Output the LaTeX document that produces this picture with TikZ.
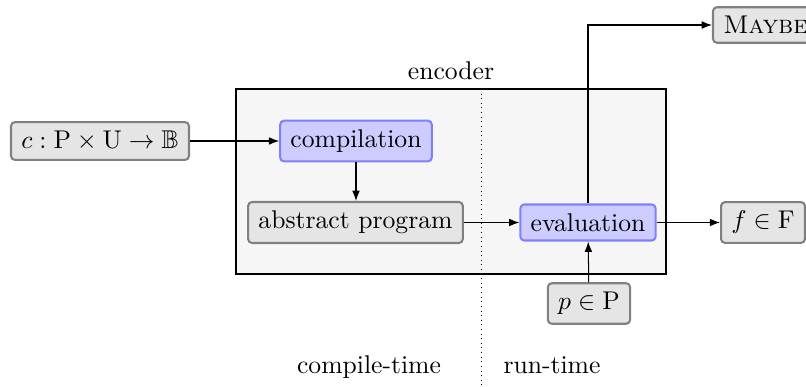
\documentclass[tikz,border=0pt]{standalone}
\usepackage{amsmath,amssymb}
\usetikzlibrary{arrows.meta}
\begin{document}
\begin{tikzpicture}[x=0.39pt,y=0.39pt,
  every node/.style={font=\normalsize},
  databox/.style={draw=gray, line width=0.8pt, fill=gray!20, rounded corners=1.5pt,
    inner xsep=4pt, inner ysep=3.5pt},
  procbox/.style={draw=blue!50, line width=0.8pt, fill=blue!20, rounded corners=1.5pt,
    inner xsep=4pt, inner ysep=3.5pt},
  flow/.style={-{Latex[length=4pt,width=3pt]}, line width=0.4pt}]
  \clip (0,0) rectangle (806,386);
  \useasboundingbox (0,0) rectangle (806,386);

  % encoder region
  \node[draw=black, line width=0.4pt, fill=gray!7, minimum width=430*0.39pt,
        minimum height=185*0.39pt, inner sep=0pt] (enc) at (451,204.5) {};
  \node[anchor=base] (enclabel) at (451,307) {encoder};
  \coordinate (divtop) at (481,297);
  \coordinate (divbot) at (481,0);
  \draw[line width=0.3pt, dash pattern=on 0.3pt off 1.5pt] (divtop) -- (divbot);

  % nodes
  \node[databox] (c) at (100,245) {$c : \mathrm{P} \times \mathrm{U} \to \mathbb{B}$};
  \node[procbox] (comp) at (356,245) {compilation};
  \node[databox] (abs) at (355.5,163.5) {abstract program};
  \node[procbox] (eval) at (588,163.5) {evaluation};
  \node[databox] (fF) at (763,163.5) {$f \in \mathrm{F}$};
  \node[databox] (p) at (589,82.5) {$p \in \mathrm{P}$};
  \node[databox, anchor=west] (maybe) at (712,361) {\textsc{Maybe}};

  \node[anchor=base] (ct) at (369,12) {compile-time};
  \node[anchor=base] (rt) at (552,12) {run-time};

  % connectors
  \draw[flow] (c) -- (comp);
  \draw[flow] (comp) -- (comp |- abs.north);
  \draw[flow] (abs) -- (eval);
  \draw[flow] (eval) -- (fF);
  \draw[flow] (p) -- (eval);
  \draw[flow] (eval.north) |- (maybe.west);
\end{tikzpicture}
\end{document}
